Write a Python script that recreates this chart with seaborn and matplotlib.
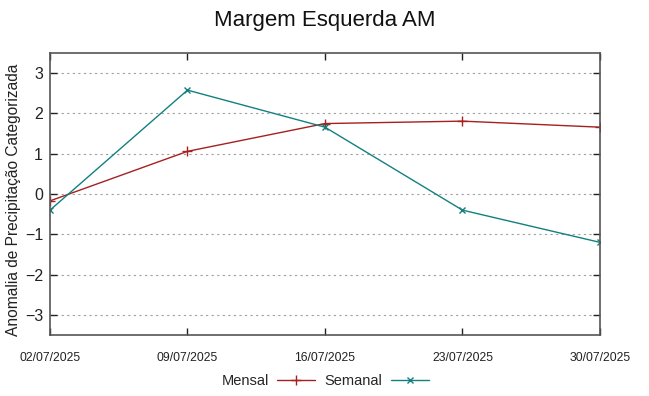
"""Margem Esquerda AM - anomalia de precipitação categorizada."""

import matplotlib

matplotlib.use("Agg")
import matplotlib.dates as mdates
import matplotlib.pyplot as plt
import pandas as pd
import seaborn as sns

datas = ["2025-07-02", "2025-07-09", "2025-07-16", "2025-07-23", "2025-07-30"]
mensal = [-0.17, 1.06, 1.75, 1.81, 1.66]
semanal = [-0.40, 2.58, 1.66, -0.40, -1.20]
y_ticks = [-3, -2, -1, 0, 1, 2, 3]

sns.set_theme(style="white")
plt.rcParams["font.family"] = ["Liberation Sans", "DejaVu Sans"]

df = pd.DataFrame({"data": pd.to_datetime(datas), "Mensal": mensal, "Semanal": semanal})

fig = plt.figure(figsize=(6.49, 3.96), dpi=100)
ax = fig.add_axes([0.077, 0.154, 0.8475, 0.712])

RED = "#a52020"
TEAL = "#128080"
sns.lineplot(data=df, x="data", y="Mensal", ax=ax, color=RED, lw=1.0,
             marker="+", markersize=7, mew=1.0, mec=RED, label="Mensal")
sns.lineplot(data=df, x="data", y="Semanal", ax=ax, color=TEAL, lw=1.0,
             marker="x", markersize=5, mew=1.0, mec=TEAL, label="Semanal")

ax.set_ylim(-3.5, 3.5)
ax.set_xlim(df["data"].iloc[0], df["data"].iloc[-1])
ax.set_yticks(y_ticks)
ax.set_xticks(df["data"])
ax.xaxis.set_major_formatter(mdates.DateFormatter("%d/%m/%Y"))
ax.yaxis.grid(True, color="#a0a0a0", linestyle=(0, (2, 3)), lw=0.8)
ax.tick_params(axis="y", direction="in", length=5, width=1, labelsize=11.5,
               colors="#222222", right=True, left=True, pad=5)
ax.tick_params(axis="x", direction="in", length=5, width=1, labelsize=8.8,
               colors="#222222", top=True, bottom=True, pad=12)
for spine in ax.spines.values():
    spine.set_color("#555555")
    spine.set_linewidth(1.2)

ax.set_xlabel("")
ax.set_ylabel("Anomalia de Precipitação Categorizada", fontsize=11.2, color="#222222")
ax.yaxis.set_label_coords(-0.052, 0.48)
fig.suptitle("Margem Esquerda AM", fontsize=16, y=0.975, color="#111111")

leg = ax.legend(loc="center", bbox_to_anchor=(0.5, -0.163), ncol=2,
                frameon=False, markerfirst=False, fontsize=10.5, handlelength=2.6,
                columnspacing=0.6, handletextpad=0.6)

fig.savefig("out.png", dpi=100)
